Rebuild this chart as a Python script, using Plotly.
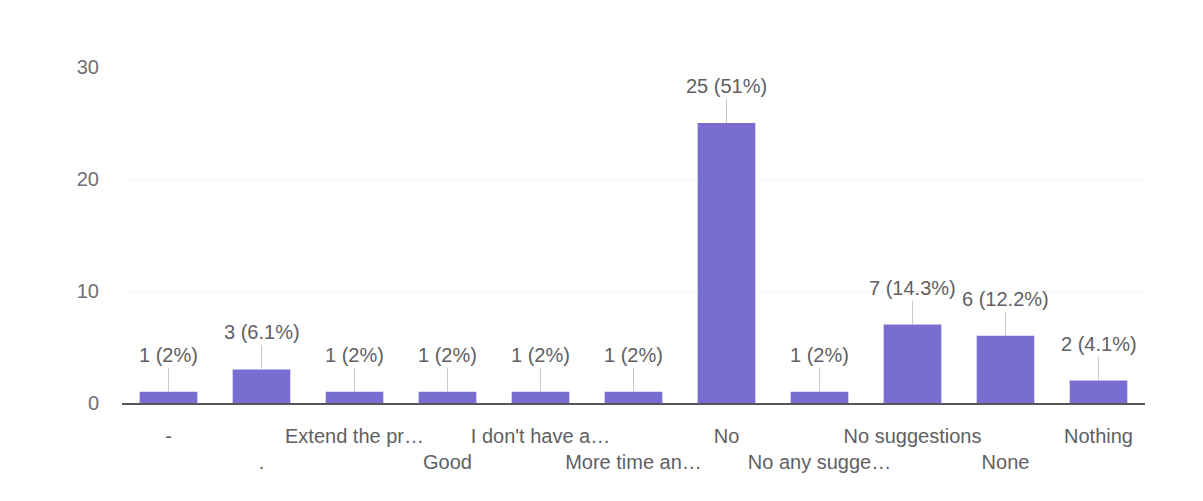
import plotly.graph_objects as go

categories = ["-", ".", "Extend the pr…", "Good", "I don't have a…", "More time an…",
              "No", "No any sugge…", "No suggestions", "None", "Nothing"]
counts = [1, 3, 1, 1, 1, 1, 25, 1, 7, 6, 2]
percents = ["2%", "6.1%", "2%", "2%", "2%", "2%", "51%", "2%", "14.3%", "12.2%", "4.1%"]
y_ticks = [0, 10, 20, 30]

bar_color = "#7a6dd2"
text_color = "#5f5f63"

# alternate tick labels on two rows
ticktext = [c if i % 2 == 0 else "<br>" + c for i, c in enumerate(categories)]

fig = go.Figure()
fig.add_trace(go.Bar(x=categories, y=counts, marker_color=bar_color, marker_line_width=0))

for c, v, p in zip(categories, counts, percents):
    fig.add_annotation(x=c, y=v, text=f"{v} ({p})", showarrow=True, arrowhead=0,
                       arrowwidth=1, arrowcolor="#c8c8cc", ax=0, ay=-24, standoff=0,
                       yanchor="bottom", font=dict(size=20, color=text_color))

fig.update_layout(
    width=1195, height=493,
    margin=dict(l=114, r=58, t=59, b=98),
    paper_bgcolor="white", plot_bgcolor="white",
    bargap=0.38,
    showlegend=False,
    font=dict(family="Liberation Sans, Arial, sans-serif", size=20, color=text_color),
    xaxis=dict(tickmode="array", tickvals=categories, ticktext=ticktext, tickangle=0,
               automargin=False, ticklabelstandoff=14,
               showline=True, linecolor="#55555a", linewidth=2, ticks="",
               tickfont=dict(size=20, color=text_color), showgrid=False),
    yaxis=dict(range=[0, 30], tickvals=y_ticks, showgrid=True, gridcolor="#f6f6f8",
               automargin=False,
               zeroline=False, ticks="", ticklabelstandoff=22,
               tickfont=dict(size=20, color="#6f6f74")),
)

fig.write_html("out.html")
